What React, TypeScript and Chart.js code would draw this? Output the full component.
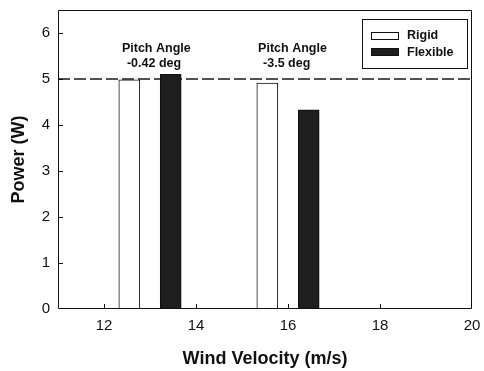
import React, { useEffect, useRef } from "react";
import { Chart, registerables } from "chart.js";

Chart.register(...registerables);

// ---- Data ----
const rigidVelocity = [12.55, 15.55];
const rigidPower = [4.98, 4.91];
const flexibleVelocity = [13.45, 16.45];
const flexiblePower = [5.1, 4.33];
const seriesLabels = ["Rigid", "Flexible"];
const referencePower = 5;
const xTicks = [12, 14, 16, 18, 20];
const yTicks = [0, 1, 2, 3, 4, 5, 6];
const xRange = [11, 20];
const yRange = [0, 6.5];
const annotationTexts = [
  ["Pitch Angle", "-0.42 deg"],
  ["Pitch Angle", "-3.5 deg"],
];
const annotationVelocity = [12.39, 15.35];
const annotationPower = 5.67;

const FONT = "'Liberation Sans', Arial, Helvetica, sans-serif";

const framePlugin = {
  id: "frameAndTicks",
  afterDatasetsDraw(chart: any) {
    const { ctx, chartArea } = chart;
    const { left, right, top, bottom } = chartArea;
    ctx.save();
    ctx.strokeStyle = "#111";
    ctx.lineWidth = 1;
    ctx.beginPath();
    ctx.rect(left + 0.5, top + 0.5, right - left - 1, bottom - top - 1);
    ctx.stroke();
    const xs = chart.scales.x;
    const ys = chart.scales.y;
    ctx.beginPath();
    xTicks.forEach((v) => {
      const px = Math.round(xs.getPixelForValue(v)) + 0.5;
      if (px > left + 2 && px < right - 2) {
        ctx.moveTo(px, bottom);
        ctx.lineTo(px, bottom - 5);
      }
    });
    yTicks.forEach((v) => {
      const py = Math.round(ys.getPixelForValue(v)) + 0.5;
      if (py > top + 2 && py < bottom - 2) {
        ctx.moveTo(left, py);
        ctx.lineTo(left + 5, py);
      }
    });
    ctx.stroke();

    // annotations
    ctx.fillStyle = "#111";
    ctx.font = `bold 12.5px ${FONT}`;
    ctx.textBaseline = "middle";
    ctx.textAlign = "left";
    annotationTexts.forEach((lines, i) => {
      const ax = xs.getPixelForValue(annotationVelocity[i]);
      const ay = ys.getPixelForValue(annotationPower);
      lines.forEach((t, j) => {
        ctx.fillText(t, ax + (j === 0 ? 0 : 5), ay + j * 15);
      });
    });

    // legend box
    const x0 = right - 110;
    const y0 = top + 9;
    ctx.fillStyle = "#fff";
    ctx.fillRect(x0, y0, 105, 49);
    ctx.strokeStyle = "#111";
    ctx.strokeRect(x0 + 0.5, y0 + 0.5, 105, 49);
    const bars = chart.data.datasets.filter((d: any) => d.type === "bar");
    bars.forEach((d: any, i: number) => {
      const cy = y0 + 16.5 + i * 16.5;
      ctx.fillStyle = d.backgroundColor;
      ctx.fillRect(x0 + 9, Math.round(cy - 4), 28, 8);
      ctx.strokeStyle = "#111";
      ctx.strokeRect(x0 + 9.5, Math.round(cy - 4) + 0.5, 27, 7);
      ctx.fillStyle = "#111";
      ctx.font = `bold 12.5px ${FONT}`;
      ctx.fillText(d.label, x0 + 45, cy + 0.5);
    });
    ctx.restore();
  },
};

export default function App() {
  const canvasRef = useRef<HTMLCanvasElement | null>(null);

  useEffect(() => {
    const canvas = canvasRef.current;
    if (!canvas) return;
    const chart = new Chart(canvas, {
      type: "bar",
      data: {
        datasets: [
          {
            type: "bar",
            label: seriesLabels[0],
            data: rigidVelocity.map((x, i) => ({ x, y: rigidPower[i] })),
            backgroundColor: "#ffffff",
            borderColor: "#111111",
            borderWidth: 1,
            barThickness: 21,
            grouped: false,
          } as any,
          {
            type: "bar",
            label: seriesLabels[1],
            data: flexibleVelocity.map((x, i) => ({ x, y: flexiblePower[i] })),
            backgroundColor: "#1e1e1e",
            borderColor: "#111111",
            borderWidth: 1,
            barThickness: 21,
            grouped: false,
          } as any,
          {
            type: "line",
            label: "reference",
            data: xRange.map((x) => ({ x, y: referencePower })),
            borderColor: "#1a1a1a",
            borderWidth: 1.4,
            borderDash: [12, 4],
            pointRadius: 0,
            fill: false,
          } as any,
        ],
      },
      options: {
        responsive: false,
        animation: false,
        layout: { padding: { top: 10, right: 12, left: 0, bottom: 0 } },
        plugins: {
          legend: { display: false },
          tooltip: { enabled: false },
        },
        scales: {
          x: {
            type: "linear",
            offset: false,
            min: xRange[0],
            max: xRange[1],
            grid: { display: false, offset: false, drawTicks: false },
            border: { display: false },
            afterBuildTicks: (s: any) => {
              s.ticks = xTicks.map((v) => ({ value: v }));
            },
            afterFit: (s: any) => {
              s.height = 62;
              s.paddingLeft = 0;
              s.paddingRight = 0;
            },
            ticks: {
              color: "#111",
              padding: 8,
              maxRotation: 0,
              autoSkip: false,
              font: { family: FONT, size: 15 },
            },
            title: {
              display: true,
              text: "Wind Velocity (m/s)",
              color: "#111",
              padding: { bottom: 1, top: 0 },
              font: { family: FONT, size: 18, weight: "bold" },
            },
          },
          y: {
            type: "linear",
            min: yRange[0],
            max: yRange[1],
            grid: { display: false, drawTicks: false },
            border: { display: false },
            afterBuildTicks: (s: any) => {
              s.ticks = yTicks.map((v) => ({ value: v }));
            },
            afterFit: (s: any) => {
              s.width = 58;
              s.paddingTop = 0;
              s.paddingBottom = 0;
            },
            ticks: {
              color: "#111",
              padding: 8,
              autoSkip: false,
              font: { family: FONT, size: 15 },
            },
            title: {
              display: true,
              text: "Power (W)",
              color: "#111",
              padding: { top: 8, bottom: 0 },
              font: { family: FONT, size: 18, weight: "bold" },
            },
          },
        },
      } as any,
      plugins: [framePlugin],
    });
    return () => chart.destroy();
  }, []);

  return (
    <div style={{ position: "absolute", left: 0, top: 0, width: 484, height: 371, background: "#fff" }}>
      <canvas ref={canvasRef} width={484} height={371} style={{ display: "block" }} />
    </div>
  );
}
